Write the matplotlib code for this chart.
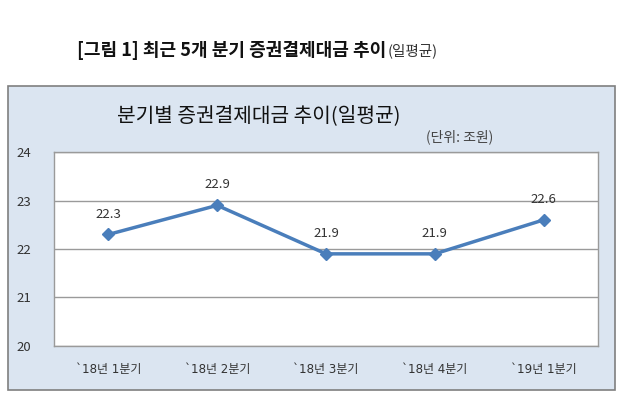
import matplotlib
matplotlib.use("Agg")
import matplotlib.pyplot as plt
from matplotlib.patches import Rectangle

plt.rcParams['font.family'] = ['Noto Sans CJK KR', 'DejaVu Sans']

categories = ["`18년 1분기", "`18년 2분기", "`18년 3분기", "`18년 4분기", "`19년 1분기"]
values = [22.3, 22.9, 21.9, 21.9, 22.6]
yticks = [20, 21, 22, 23, 24]

W, H = 630, 411
fig = plt.figure(figsize=(W / 100, H / 100), dpi=100)
fig.patch.set_facecolor('white')

# outer panel
panel = Rectangle((8 / W, 1 - 390 / H), (615 - 8) / W, (390 - 86) / H,
                  transform=fig.transFigure, facecolor='#dbe5f1',
                  edgecolor='#7f7f7f', linewidth=1.2, zorder=-1)
fig.patches.append(panel)

# titles
fig.text(77 / W, 1 - 50 / H, "[그림 1] 최근 5개 분기 증권결제대금 추이", ha='left', va='center',
         fontsize=13, fontweight='bold', color='#111111')
fig.text(388 / W, 1 - 51 / H, "(일평균)", ha='left', va='center', fontsize=10.5, color='#333333')
fig.text(259 / W, 1 - 116 / H, "분기별 증권결제대금 추이(일평균)", ha='center', va='center',
         fontsize=14.6, color='#111111')
fig.text(493 / W, 1 - 137 / H, "(단위: 조원)", ha='right', va='center', fontsize=10, color='#444444')

ax = fig.add_axes([54 / W, 1 - 346 / H, (598 - 54) / W, (346 - 152) / H])
ax.set_zorder(2)
ax.set_facecolor('white')
x = list(range(len(categories)))
ax.plot(x, values, color='#4a7ebb', linewidth=2.5, marker='D', markersize=6.5,
        markerfacecolor='#4a7ebb', markeredgecolor='#4a7ebb', zorder=3)
for xi, v in zip(x, values):
    ax.annotate(f"{v}", (xi, v), xytext=(0, 10), textcoords='offset points',
                ha='center', va='bottom', fontsize=9.5, color='#333333')

ax.set_xlim(-0.5, len(categories) - 0.5)
ax.set_ylim(yticks[0], yticks[-1])
ax.set_yticks(yticks)
ax.set_xticks(x)
ax.set_xticklabels(categories, family=['DejaVu Sans', 'Noto Sans CJK KR'])
ax.grid(axis='y', color='#9a9a9a', linewidth=1)
ax.set_axisbelow(True)
for s in ax.spines.values():
    s.set_color('#9a9a9a')
    s.set_linewidth(1)
ax.tick_params(axis='both', length=0, labelsize=9.5, labelcolor='#333333')
ax.tick_params(axis='x', pad=12)
for lbl in ax.get_xticklabels():
    lbl.set_fontsize(8.6)
for lbl in ax.get_yticklabels():
    lbl.set_horizontalalignment('left')
ax.yaxis.set_tick_params(pad=27)

fig.savefig("out.png", dpi=100, facecolor='white')
